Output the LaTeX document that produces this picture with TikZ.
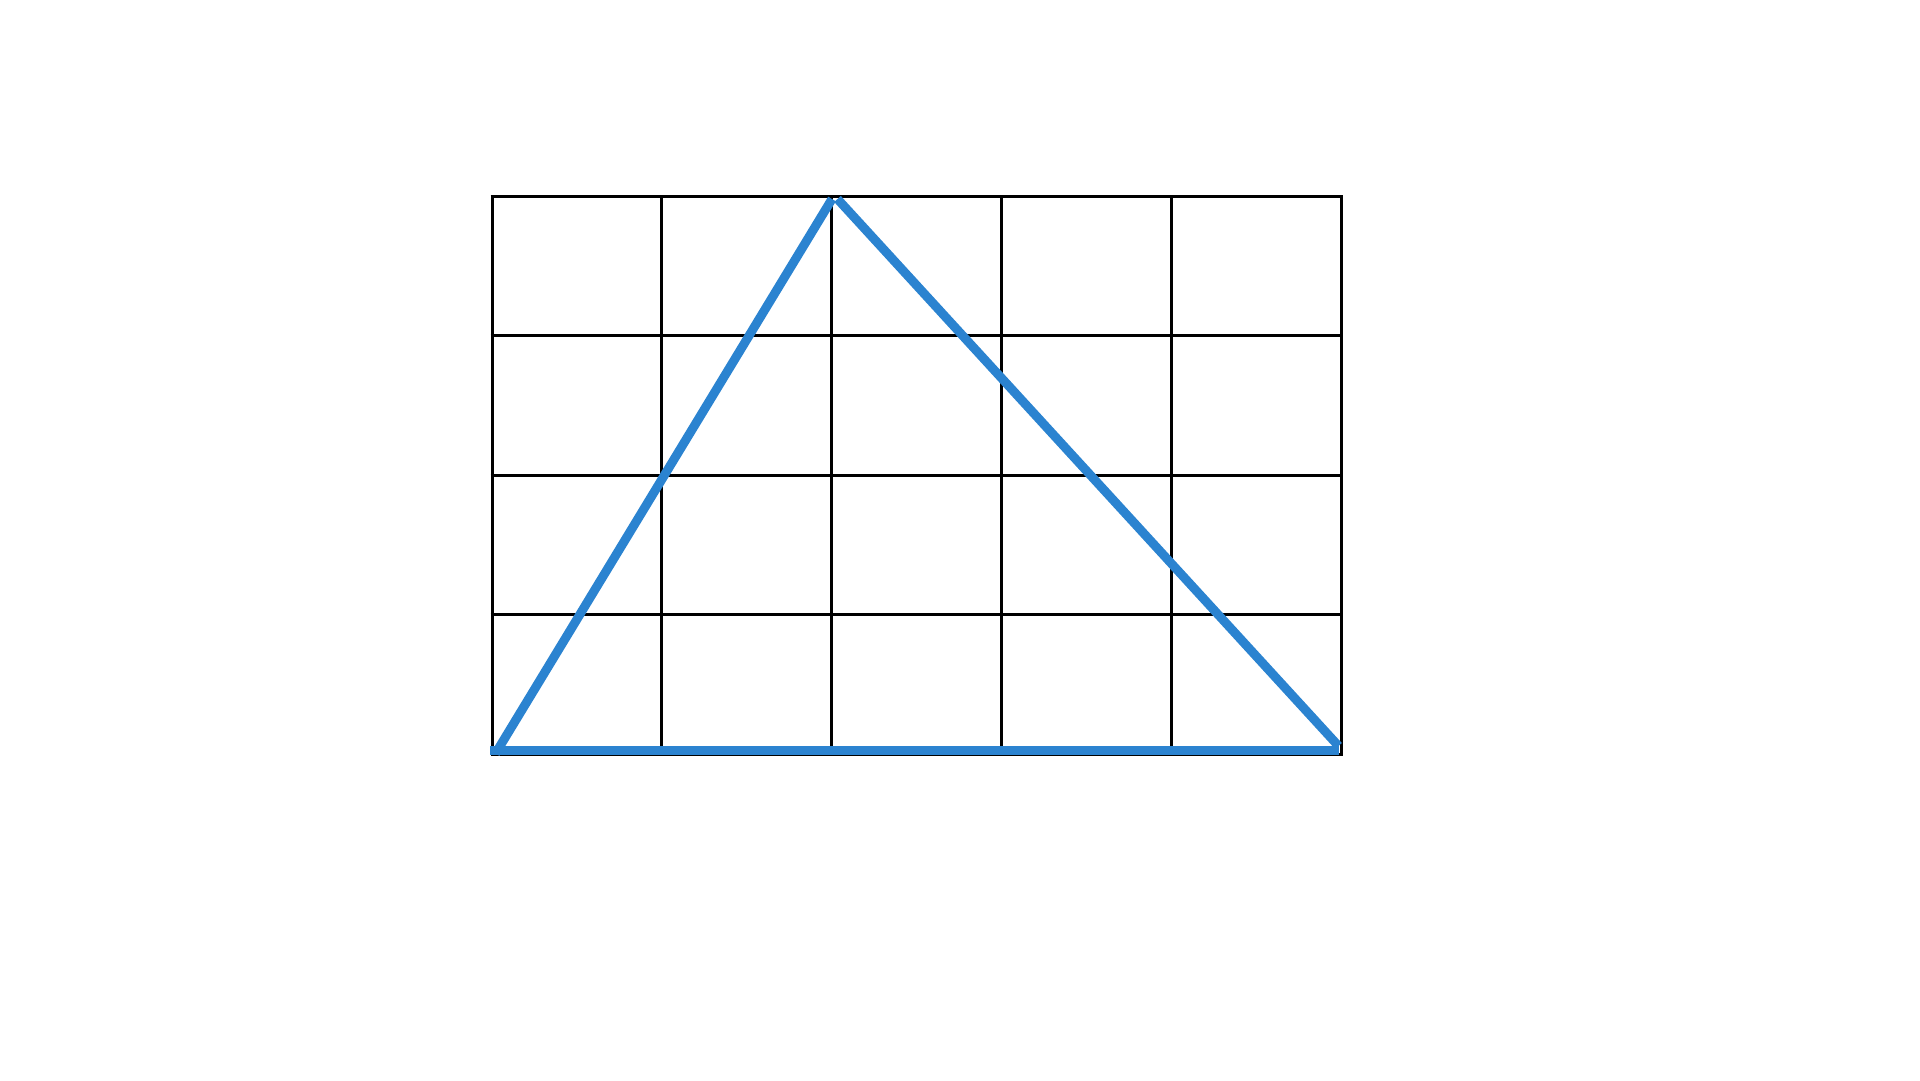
\documentclass[tikz,border=0pt]{standalone}
\definecolor{triblue}{RGB}{43,131,208}
\begin{document}
\begin{tikzpicture}[x=1pt,y=-1pt,
  gridline/.style={draw=black,line width=3pt},
  triline/.style={draw=triblue,line width=9pt}]
\useasboundingbox (0,0) rectangle (1920,1080);
\fill[white] (0,0) rectangle (1920,1080);
% grid
\foreach \i in {0,...,5} {
  \draw[gridline] ({492+169.8*\i},196) -- ({492+169.8*\i},754);
}
\foreach \j in {0,...,4} {
  \draw[gridline] (490.5,{196+139.5*\j}) -- (1342.5,{196+139.5*\j});
}
% triangle
\coordinate (bl) at (490,750.5);
\coordinate (br) at (1339,750.5);
\coordinate (l1) at (495.5,753.5);
\coordinate (l2) at (832,199);
\coordinate (r1) at (837.5,199);
\coordinate (r2) at (1338.5,746);
\draw[triline] (bl) -- (br);
\draw[triline] (l1) -- (l2);
\draw[triline] (r1) -- (r2);
\end{tikzpicture}
\end{document}
